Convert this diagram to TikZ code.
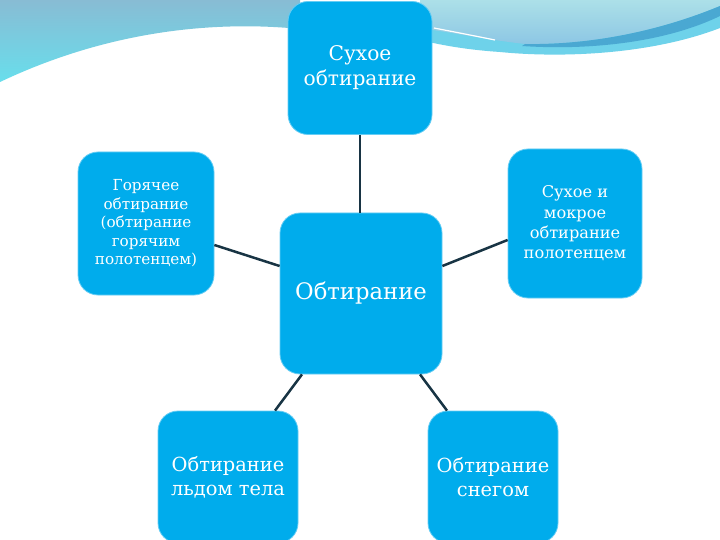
\documentclass[tikz,border=0pt]{standalone}
\usepackage{fontspec}
\setmainfont{DejaVu Serif}
\definecolor{boxblue}{RGB}{0,172,236}
\definecolor{linkcol}{RGB}{24,52,68}
\definecolor{bandtop}{RGB}{136,188,212}
\definecolor{bandbot}{RGB}{104,222,236}
\definecolor{paletop}{RGB}{172,224,232}
\definecolor{palebot}{RGB}{140,198,228}
\definecolor{stripe}{RGB}{74,168,210}
\definecolor{lowband}{RGB}{110,210,234}
\begin{document}
\begin{tikzpicture}[x=1pt,y=-1pt,
  tile/.style={rectangle,rounded corners=20pt,fill=boxblue,draw=boxblue!60!white,line width=0.8pt,
    text=white,align=center,inner sep=2pt},
  link/.style={draw=linkcol,line width=2.5pt}]
\useasboundingbox (0,0) rectangle (720,540);
\clip (0,0) rectangle (720,540);
\fill[white] (0,0) rectangle (720,540);
% top-left band
\shade[top color=bandtop,bottom color=bandbot]
  (0,0) -- (300,0) -- (300,29) .. controls (230,22) and (120,25) .. (0,82) -- cycle;
% top-right band layers
\fill[lowband] (420,0) -- (720,0) -- (720,28) .. controls (650,55) and (560,58) .. (500,52)
  .. controls (470,50) and (445,46) .. (420,40) -- cycle;
\shade[top color=paletop,bottom color=palebot]
  (420,0) -- (720,0) -- (720,6) .. controls (650,35) and (580,45) .. (525,44)
  .. controls (490,40) and (460,34) .. (420,28) -- cycle;
\fill[stripe] (720,6) .. controls (650,35) and (580,45) .. (525,44)
  -- (522,46) .. controls (580,50) and (660,45) .. (720,16) -- cycle;
\draw[white,line width=1.2pt] (434,28) .. controls (460,33) and (480,37) .. (495,40);
% nodes
\node[tile,minimum width=144pt,minimum height=133pt,font=\fontsize{20.2}{25}\selectfont] (top) at (360,68) {Сухое\\обтирание};
\node[tile,minimum width=162pt,minimum height=161pt,font=\fontsize{22.7}{26}\selectfont] (mid) at (361,293.5) {Обтирание};
\node[tile,minimum width=136pt,minimum height=143pt,font=\fontsize{15.2}{18.5}\selectfont] (left) at (146,223.5) {Горячее\\обтирание\\(обтирание\\горячим\\полотенцем)};
\node[tile,minimum width=134pt,minimum height=149pt,font=\fontsize{16.2}{20.3}\selectfont] (right) at (575,223.5) {Сухое и\\мокрое\\обтирание\\полотенцем};
\node[tile,minimum width=140pt,minimum height=132pt,font=\fontsize{19.4}{24}\selectfont] (bl) at (228,477) {Обтирание\\льдом тела};
\node[tile,minimum width=130pt,minimum height=132pt,font=\fontsize{19.4}{24}\selectfont] (br) at (493,477) {Обтирание\\снегом};
% connectors
\draw[link] (top.south) -- (top.south |- mid.north);
\draw[link] (left.east |- 0,245) -- (mid.west |- 0,266);
\draw[link] (mid.east |- 0,266) -- (right.west |- 0,240);
\draw[link] (bl.north -| 275,0) -- (mid.south -| 302,0);
\draw[link] (br.north -| 447,0) -- (mid.south -| 420,0);
\end{tikzpicture}
\end{document}
